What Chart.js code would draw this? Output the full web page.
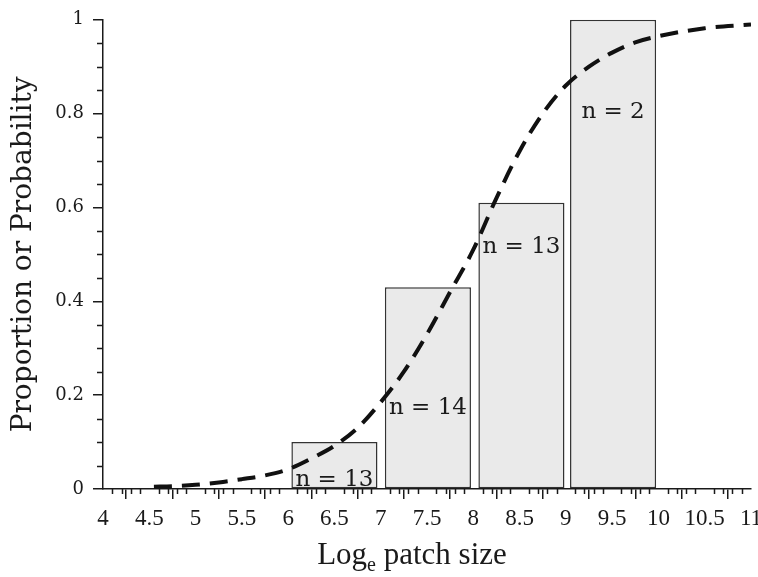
<!DOCTYPE html>
<html>
<head>
<meta charset="utf-8">
<script src="https://cdn.jsdelivr.net/npm/chart.js@4.4.1/dist/chart.umd.min.js"></script>
<style>
  html, body { margin: 0; padding: 0; background: #fff; }
  #wrap { width: 758px; height: 577px; }
</style>
</head>
<body>
<div id="wrap"><canvas id="patch-chart"></canvas></div>
<script>
// bins (log patch size) and observed proportions
var binCentres = [6.5, 7.51, 8.52, 9.51];
var proportions = [0.1, 0.43, 0.61, 1.0];
var sampleSizes = [13, 14, 13, 2];
var labelLevels = [0.006, 0.16, 0.504, 0.79];

// fitted logistic curve
var curveX = [4.55, 4.75, 5, 5.25, 5.5, 5.75, 6, 6.25, 6.5, 6.75, 7, 7.25, 7.5, 7.75,
              8, 8.25, 8.5, 8.75, 9, 9.25, 9.5, 9.75, 10, 10.5, 11];
var curveY = [0.005, 0.006, 0.009, 0.014, 0.021, 0.029, 0.042, 0.065, 0.092, 0.13, 0.185, 0.25, 0.33, 0.42,
              0.51, 0.62, 0.72, 0.8, 0.86, 0.9, 0.93, 0.952, 0.965, 0.982, 0.99];

var times = "'Liberation Serif', 'Times New Roman', serif";
var wide = "'DejaVu Serif', serif";
var ink = '#1a1a1a';

var barPoints = binCentres.map(function (x, i) { return {x: x, y: proportions[i]}; });
var curvePoints = curveX.map(function (x, i) { return {x: x, y: curveY[i]}; });

function plain(v) { return String(+v.toFixed(2)); }

// minor ticks + n labels + x title with subscript
var extras = {
    id: 'extras',
    afterDatasetsDraw: function (chart) {
        var ctx = chart.ctx, xs = chart.scales.x, ys = chart.scales.y;
        ctx.save();
        ctx.fillStyle = ink;
        ctx.font = '23px ' + wide;
        ctx.textAlign = 'center';
        ctx.textBaseline = 'alphabetic';
        binCentres.forEach(function (c, i) {
            ctx.fillText('n = ' + sampleSizes[i], xs.getPixelForValue(c), ys.getPixelForValue(labelLevels[i]));
        });
        ctx.restore();
    },
    afterDraw: function (chart) {
        var ctx = chart.ctx, xs = chart.scales.x, ys = chart.scales.y;
        var a = chart.chartArea;
        ctx.save();
        ctx.strokeStyle = ink;
        ctx.lineWidth = 1.5;
        ctx.beginPath();
        for (var i = 40; i <= 110; i++) {
            if (i % 5 === 0) continue;
            var px = Math.round(xs.getPixelForValue(i / 10)) + 0.5;
            ctx.moveTo(px, a.bottom);
            ctx.lineTo(px, a.bottom + 5);
        }
        for (var j = 0; j <= 20; j++) {
            if (j % 4 === 0) continue;
            var py = Math.round(ys.getPixelForValue(j / 20)) + 0.5;
            ctx.moveTo(a.left - 6, py);
            ctx.lineTo(a.left, py);
        }
        ctx.stroke();

        // x title: Log_e patch size
        var big = '31px ' + times, small = '20px ' + times;
        ctx.fillStyle = ink;
        ctx.textBaseline = 'alphabetic';
        ctx.font = big;
        var w1 = ctx.measureText('Log').width;
        var w3 = ctx.measureText(' patch size').width;
        ctx.font = small;
        var w2 = ctx.measureText('e').width;
        var x0 = (a.left + a.right) / 2 - (w1 + w2 + w3) / 2 - 15;
        var base = 564;
        ctx.textAlign = 'left';
        ctx.font = big;
        ctx.fillText('Log', x0, base);
        ctx.font = small;
        ctx.fillText('e', x0 + w1, base + 7);
        ctx.font = big;
        ctx.fillText(' patch size', x0 + w1 + w2, base);
        ctx.restore();
    }
};

var ctx2 = document.getElementById('patch-chart').getContext('2d');
new Chart(ctx2, {
    type: 'bar',
    data: {
        datasets: [
            {
                type: 'line',
                label: 'Fitted probability',
                data: curvePoints,
                borderColor: '#111',
                borderWidth: 4,
                borderDash: [18, 10],
                pointRadius: 0,
                cubicInterpolationMode: 'monotone',
                fill: false,
                order: 0
            },
            {
                type: 'bar',
                label: 'Proportion',
                data: barPoints,
                backgroundColor: '#eaeaea',
                borderColor: '#333',
                borderWidth: 1.5,
                borderSkipped: false,
                // ruler uses the 0.5 tick spacing, so this gives ~0.93 units
                barPercentage: 1.86,
                categoryPercentage: 1,
                grouped: false,
                order: 1
            }
        ]
    },
    options: {
        responsive: true,
        maintainAspectRatio: false,
        animation: false,
        layout: {padding: {top: 12, right: 7, left: 0, bottom: 0}},
        plugins: {
            legend: {display: false},
            tooltip: {enabled: false}
        },
        scales: {
            x: {
                type: 'linear',
                min: 4,
                max: 11,
                offset: false,
                grid: {drawOnChartArea: false, color: ink, lineWidth: 1.5, tickLength: 10},
                border: {color: ink, width: 1.5},
                ticks: {stepSize: 0.5, color: ink, font: {family: times, size: 23}, padding: 6, maxRotation: 0, autoSkip: false, callback: plain},
                afterFit: function (scale) { scale.height = 88; scale.paddingRight = 0; }
            },
            y: {
                min: 0,
                max: 1,
                grid: {drawOnChartArea: false, color: ink, lineWidth: 1.5, tickLength: 10},
                border: {color: ink, width: 1.5},
                ticks: {stepSize: 0.2, color: ink, font: {family: wide, size: 18}, padding: 9, callback: plain},
                title: {display: true, text: 'Proportion or Probability', color: ink, font: {family: wide, size: 28}, padding: {top: 7, bottom: 0}},
                afterFit: function (scale) { scale.width = 103; }
            }
        }
    },
    plugins: [extras]
});
</script>
</body>
</html>
